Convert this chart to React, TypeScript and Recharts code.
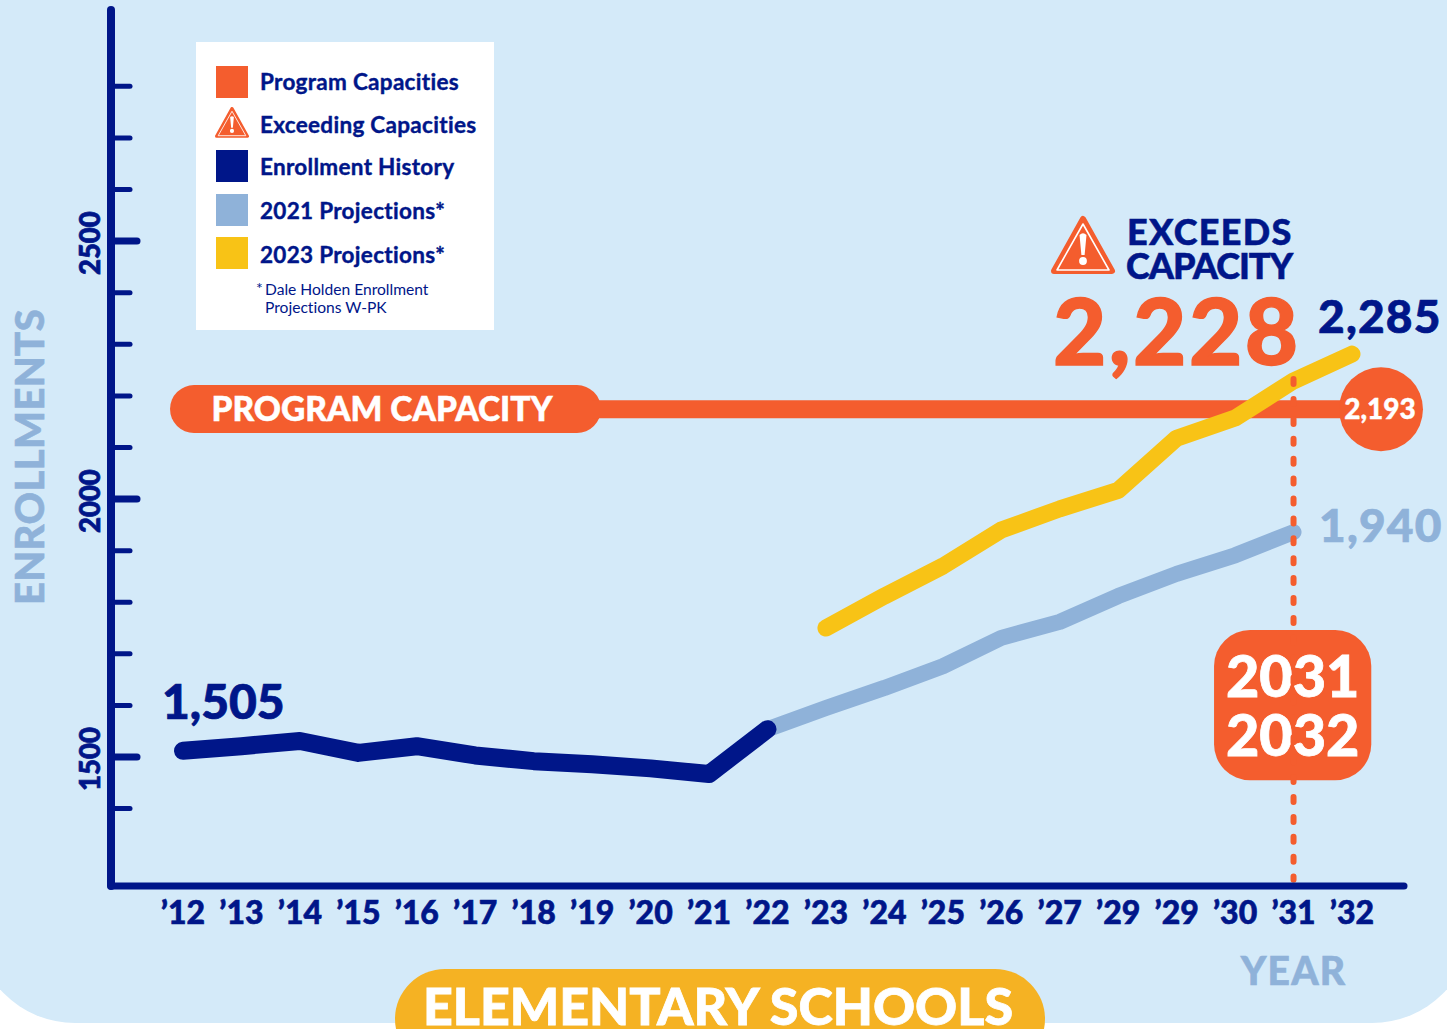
import React from 'react';
import { LineChart, Line, XAxis, YAxis, ReferenceLine, ReferenceDot, ReferenceArea, Legend } from 'recharts';

const NAVY = '#001689';
const ORANGE = '#F45D2E';
const BLUE = '#8FB2D9';
const YELLOW = '#F8C316';
const FONT = 'Lato, sans-serif';

const yearLabels = ['’12','’13','’14','’15','’16','’17','’18','’19','’20','’21','’22','’23','’24','’25','’26','’27','’29','’29','’30','’31','’32'];
const history = [1512,1521,1531,1508,1521,1503,1492,1486,1478,1467,1554,null,null,null,null,null,null,null,null,null,null];
const projections2021 = [null,null,null,null,null,null,null,null,null,null,1554,1595,1634,1676,1731,1762,1812,1855,1891,1936,null];
const projections2023 = [null,null,null,null,null,null,null,null,null,null,null,1750,1812,1870,1940,1981,2017,2118,2157,2229,2281];
const yTicks = [1400,1500,1600,1700,1800,1900,2000,2100,2200,2300,2400,2500,2600,2700,2800];
const capacityLevel = 2174;

const rows = yearLabels.map((label, i) => ({
  idx: i,
  label,
  history: history[i],
  p2021: projections2021[i],
  p2023: projections2023[i],
}));

const legendRows = [
  { name: 'Program Capacities', color: ORANGE, kind: 'square', top: 24, textTop: 26 },
  { name: 'Exceeding Capacities', color: ORANGE, kind: 'warning', top: 66, textTop: 69 },
  { name: 'Enrollment History', color: NAVY, kind: 'square', top: 108, textTop: 111 },
  { name: '2021 Projections*', color: BLUE, kind: 'square', top: 152, textTop: 155 },
  { name: '2023 Projections*', color: YELLOW, kind: 'square', top: 195, textTop: 199 },
];

const Warning = ({ size }: { size: number }) => (
  <g transform={`scale(${size / 64})`}>
    <path d="M32 3 L61 55 H3 Z" fill={ORANGE} stroke={ORANGE} strokeWidth={6} strokeLinejoin="round" />
    <path d="M32 8 L58 54 H6 Z" fill="none" stroke="#fff" strokeWidth={1.6} strokeLinejoin="round" />
    <path d="M28.5 19 Q32 15.5 35.5 19 L33.6 39 H30.4 Z" fill="#fff" />
    <circle cx={32} cy={45} r={3.9} fill="#fff" />
  </g>
);

const LegendBox = () => (
  <div style={{ position: 'relative', width: 298, height: 288, background: '#fff', fontFamily: FONT, color: NAVY, fontVariantLigatures: 'none' }}>
    {legendRows.map((r) => (
      <div key={r.name}>
        {r.kind === 'square' ? (
          <div style={{ position: 'absolute', left: 20, top: r.top, width: 32, height: 32, background: r.color }} />
        ) : (
          <svg style={{ position: 'absolute', left: 19, top: r.top - 1 }} width={34} height={34}><Warning size={34} /></svg>
        )}
        <div style={{ position: 'absolute', left: 64, top: r.textTop, lineHeight: '28px', fontSize: 22.5, fontWeight: 700, letterSpacing: 0.3, WebkitTextStroke: `0.4px ${NAVY}`, whiteSpace: 'nowrap' }}>{r.name}</div>
      </div>
    ))}
    <div style={{ position: 'absolute', left: 60, top: 237, fontSize: 16, lineHeight: '18px', whiteSpace: 'nowrap' }}>*</div>
    <div style={{ position: 'absolute', left: 69, top: 238, fontSize: 15.6, lineHeight: '18px', whiteSpace: 'nowrap' }}>Dale Holden Enrollment<br />Projections W-PK</div>
  </div>
);

const YTick = ({ x, y, payload }: any) => {
  const major = payload.value % 500 === 0;
  return (
    <g>
      <line x1={x} x2={x + (major ? 26 : 19)} y1={y} y2={y} stroke={NAVY} strokeWidth={major ? 7 : 5} strokeLinecap="round" />
      {major && (
        <text x={x - 11} y={y + 2} transform={`rotate(-90 ${x - 11} ${y + 2})`} textAnchor="middle" fontFamily={FONT} fontWeight={900} fontSize={27.5} fill={NAVY} stroke={NAVY} strokeWidth={0.7}>
          {payload.value}
        </text>
      )}
    </g>
  );
};

const XTick = ({ x, y, payload }: any) => (
  <text x={x} y={y + 38} textAnchor="middle" fontFamily={FONT} fontWeight={900} fontSize={32} fill={NAVY} stroke={NAVY} strokeWidth={0.6}>
    {yearLabels[payload.value]}
  </text>
);

const PillShape = ({ x, y, width, height }: any) => (
  <g>
    <rect x={x} y={y} width={width} height={height} rx={24} fill={ORANGE} />
    <text x={x + width / 2 - 3.5} y={y + height / 2 + 12} textAnchor="middle" fontFamily={FONT} fontWeight={900} fontSize={33.5} fill="#fff" stroke="#fff" strokeWidth={0.5}>PROGRAM CAPACITY</text>
  </g>
);

const YearBoxShape = ({ x, y, width, height }: any) => (
  <g>
    <rect x={x} y={y} width={width} height={height} rx={36} fill={ORANGE} />
    <text x={x + width / 2} y={y + 67} textAnchor="middle" fontFamily={FONT} fontWeight={900} fontSize={57.5} fill="#fff" stroke="#fff" strokeWidth={0.8}>2031</text>
    <text x={x + width / 2} y={y + 126} textAnchor="middle" fontFamily={FONT} fontWeight={900} fontSize={57.5} fill="#fff" stroke="#fff" strokeWidth={0.8}>2032</text>
  </g>
);

const t = (s: string, x: number, y: number, size: number, fill: string, extra: any = {}) => (
  <text x={x} y={y} fontFamily={FONT} fontWeight={900} fontSize={size} fill={fill} stroke={fill} strokeWidth={size * 0.015} style={{ fontVariantLigatures: 'none' }} {...extra}>{s}</text>
);

export default function App() {
  return (
    <div style={{ position: 'absolute', left: 0, top: 0, width: 1447, height: 1029, overflow: 'hidden', background: '#fff' }}>
      <div style={{ position: 'absolute', left: -25, top: 0, width: 1497, height: 1023, background: '#D4EAF9', borderBottomLeftRadius: 100, borderBottomRightRadius: 100 }} />
      <LineChart width={1447} height={1029} data={rows} margin={{ top: 10, left: 51, right: 43, bottom: 103 }} style={{ position: 'absolute', left: 0, top: 0 }}>
        <XAxis
          dataKey="idx"
          type="number"
          domain={[-1.232, 20.89]}
          ticks={rows.map((r) => r.idx)}
          interval={0}
          allowDataOverflow
          height={40}
          tickSize={0}
          tickMargin={0}
          tick={<XTick />}
          axisLine={{ stroke: NAVY, strokeWidth: 7, strokeLinecap: 'round' }}
        />
        <YAxis
          type="number"
          domain={[1250, 2948]}
          ticks={yTicks}
          interval={0}
          allowDataOverflow
          width={60}
          tickSize={0}
          tickMargin={0}
          tick={<YTick />}
          axisLine={{ stroke: NAVY, strokeWidth: 8, strokeLinecap: 'round' }}
        />
        <ReferenceLine segment={[{ x: 7, y: capacityLevel }, { x: 20.5, y: capacityLevel }]} stroke={ORANGE} strokeWidth={18} ifOverflow="visible" />
        <ReferenceArea x1={-0.222} x2={7.15} y1={2128} y2={2221} ifOverflow="visible" shape={(p: any) => <PillShape {...p} />} />
        <ReferenceDot x={20.496} y={capacityLevel} r={42} fill={ORANGE} stroke="none" ifOverflow="visible" />
        <Line dataKey="p2021" name="2021 Projections*" stroke={BLUE} strokeWidth={16} strokeLinecap="round" strokeLinejoin="round" dot={false} activeDot={false} isAnimationActive={false} />
        <Line dataKey="p2023" name="2023 Projections*" stroke={YELLOW} strokeWidth={17} strokeLinecap="round" strokeLinejoin="round" dot={false} activeDot={false} isAnimationActive={false} />
        <Line dataKey="history" name="Enrollment History" stroke={NAVY} strokeWidth={18} strokeLinecap="round" strokeLinejoin="round" dot={false} activeDot={false} isAnimationActive={false} />
        <ReferenceLine segment={[{ x: 19, y: 2232.6 }, { x: 19, y: 1262 }]} stroke={ORANGE} strokeWidth={6} strokeDasharray="5 14.9" strokeLinecap="round" ifOverflow="visible" />
        <ReferenceArea x1={17.64} x2={20.33} y1={1455} y2={1746} ifOverflow="visible" shape={(p: any) => <YearBoxShape {...p} />} />
        <Legend layout="vertical" align="center" verticalAlign="middle" content={<LegendBox />} wrapperStyle={{ left: 196, top: 42, width: 298, height: 288 }} />
      </LineChart>
      <svg width={1447} height={1029} style={{ position: 'absolute', left: 0, top: 0, pointerEvents: 'none' }}>
        {t('1,505', 162, 719, 48, NAVY)}
        {t('EXCEEDS', 1127, 245, 36, NAVY, { letterSpacing: 1.3 })}
        {t('CAPACITY', 1126, 279, 36, NAVY, { letterSpacing: -1 })}
        {t('2,228', 1053, 365, 92, ORANGE, { letterSpacing: 2.5 })}
        {t('2,285', 1318, 333, 46, NAVY, { letterSpacing: 1.2 })}
        {t('1,940', 1319, 542, 46, BLUE, { letterSpacing: 1.2 })}
        {t('2,193', 1380, 419, 28, '#fff', { textAnchor: 'middle' })}
        <g transform="translate(1051 216)"><Warning size={64} /></g>
        <text x={44} y={457} transform="rotate(-90 44 457)" textAnchor="middle" fontFamily={FONT} fontWeight={900} fontSize={40} letterSpacing={0.4} fill={BLUE} stroke={BLUE} strokeWidth={0.6}>ENROLLMENTS</text>
        {t('YEAR', 1293.5, 985, 39, BLUE, { textAnchor: 'middle', letterSpacing: 1.2 })}
        <rect x={395} y={969} width={650} height={100} rx={50} fill="#F5B223" />
        {t('ELEMENTARY SCHOOLS', 718, 1025, 52, '#fff', { textAnchor: 'middle' })}
      </svg>
    </div>
  );
}
